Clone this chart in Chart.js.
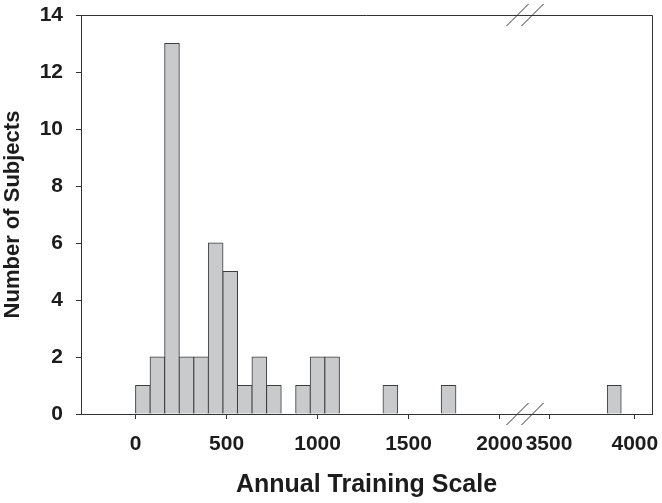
<!DOCTYPE html>
<html>
<head>
<meta charset="utf-8">
<script src="https://cdn.jsdelivr.net/npm/chart.js@4"></script>
<style>
    body { margin: 0; background: #fff; }
    canvas { display: block; }
</style>
</head>
<body>
<canvas id="myChart" width="662" height="503"></canvas>
<script>
//bin centres (bin width 80) left of the axis break
var lowBins = [40, 120, 200, 280, 360, 440, 520, 600, 680, 760, 840, 920, 1000, 1080,
    1160, 1240, 1320, 1400, 1480, 1560, 1640, 1720]
var lowCounts = [1, 2, 13, 2, 2, 6, 5, 1, 2, 1, 0, 1, 2, 2,
    0, 0, 0, 1, 0, 0, 0, 1]
//bins right of the break
var highBins = [3800, 3880, 3960]
var highCounts = [0, 1, 0]
//axis ranges and tick labels
var lowRange = [-300, 2140]
var highRange = [3360, 4100]
var lowTicks = [0, 500, 1000, 1500, 2000]
var highTicks = [3500, 4000]
var yRange = [0, 14]

var xTitle = 'Annual Training Scale'
var yTitle = 'Number of Subjects'

var ink = '#1c1c1c'
var lineColor = '#333'
var tickFont = { family: '"Liberation Sans", Arial, sans-serif', size: 21, weight: 'bold' }

function toPoints(xs, ys) {
    //empty bins are not drawn
    return xs.map((x, i) => ({ x: x, y: ys[i] || null }))
}

function xAxis(range, tickValues, weight) {
    return {
        type: 'linear',
        position: 'bottom',
        stack: 'xbreak',
        stackWeight: weight,
        min: range[0],
        max: range[1],
        offset: false,
        z: 1,
        //fixed tick values (stepSize alone gets re-spaced by chart.js)
        afterBuildTicks: s => {
            s.ticks = tickValues.map(v => ({ value: v }))
        },
        ticks: {
            maxRotation: 0,
            minRotation: 0,
            autoSkip: false,
            padding: 13,
            color: ink,
            font: tickFont,
            callback: v => String(v)
        },
        grid: { offset: false, drawOnChartArea: false, tickLength: 5, color: lineColor },
        border: { color: lineColor, width: 1 },
        afterFit: s => {
            s.height = 48
            s.paddingLeft = 0
            s.paddingRight = 0
        }
    }
}

//frame on top/right and the // break marks
var framePlugin = {
    id: 'frame',
    afterDraw(chart) {
        let ctx = chart.ctx
        let a = chart.chartArea
        let bx = chart.scales.x.right
        ctx.save()
        ctx.strokeStyle = lineColor
        ctx.lineWidth = 1
        ctx.beginPath()
        ctx.moveTo(a.left, a.top + 0.5)
        ctx.lineTo(a.right + 0.5, a.top + 0.5)
        ctx.lineTo(a.right + 0.5, a.bottom + 1)
        ctx.stroke()
        ctx.beginPath()
        for (let y of [a.top, a.bottom]) {
            for (let dx of [-7.5, 7.5]) {
                ctx.moveTo(bx + dx - 11, y + 11)
                ctx.lineTo(bx + dx + 11, y - 11)
            }
        }
        ctx.stroke()
        ctx.restore()
    }
}

var barStyle = {
    backgroundColor: 'rgb(201, 202, 204)',
    borderColor: '#3d3d3d',
    borderWidth: 1,
    borderSkipped: 'start',
    inflateAmount: 0.5,
    grouped: false,
    barPercentage: 1,
    categoryPercentage: 1
}

var ctx = document.getElementById('myChart').getContext('2d')
var myChart = new Chart(ctx, {
    type: 'bar',
    data: {
        datasets: [
            Object.assign({ label: 'low', data: toPoints(lowBins, lowCounts), xAxisID: 'x', yAxisID: 'y' }, barStyle),
            Object.assign({ label: 'high', data: toPoints(highBins, highCounts), xAxisID: 'x2', yAxisID: 'y' }, barStyle)
        ]
    },
    options: {
        responsive: false,
        animation: false,
        devicePixelRatio: 1,
        layout: { padding: { top: 15, right: 10, left: 0, bottom: 0 } },
        plugins: {
            legend: { display: false },
            tooltip: { enabled: false },
            title: {
                display: true,
                text: xTitle,
                position: 'bottom',
                fullSize: false,
                color: ink,
                font: { family: tickFont.family, size: 25, weight: 'bold', lineHeight: 1.2 },
                padding: { top: 8.5, bottom: 2.5 }
            }
        },
        scales: {
            x: xAxis(lowRange, lowTicks, 444),
            x2: xAxis(highRange, highTicks, 127),
            y: {
                type: 'linear',
                position: 'left',
                min: yRange[0],
                max: yRange[1],
                ticks: { stepSize: 2, padding: 13, color: ink, font: tickFont },
                grid: { drawOnChartArea: false, tickLength: 5, color: lineColor },
                border: { color: lineColor, width: 1 },
                title: {
                    display: true,
                    text: yTitle,
                    color: ink,
                    font: { family: tickFont.family, size: 22, weight: 'bold', lineHeight: 1.2 },
                    padding: { top: 0, bottom: 0 }
                },
                afterFit: s => {
                    s.width = 81
                    s.paddingTop = 0
                    s.paddingBottom = 0
                }
            }
        }
    },
    plugins: [framePlugin]
})
</script>
</body>
</html>
